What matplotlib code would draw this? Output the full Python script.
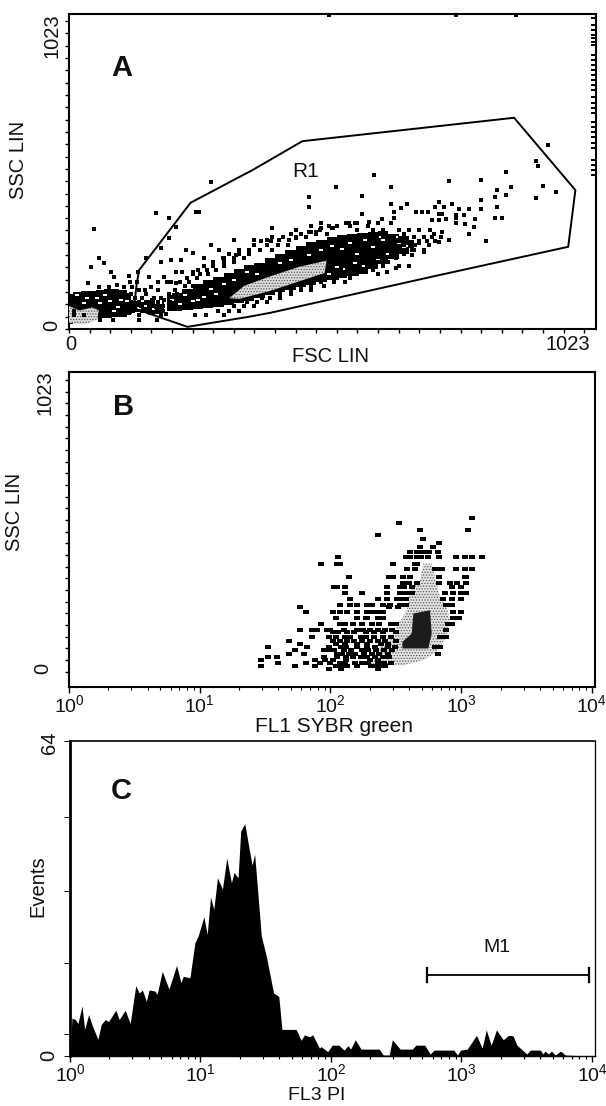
#!/usr/bin/env python3
"""Flow cytometry figure: FSC/SSC dot plot (A), SYBR green/SSC (B), PI histogram (C)."""
import matplotlib
matplotlib.use("Agg")
import matplotlib.pyplot as plt
from matplotlib.patches import Polygon
from matplotlib.ticker import LogLocator, NullFormatter, LogFormatterMathtext
import numpy as np

W, H = 606, 1106
plt.rcParams["font.family"] = ["Liberation Sans", "DejaVu Sans"]
plt.rcParams["hatch.linewidth"] = 0.6

# ── Panel A: FSC / SSC channels ──────────────────────────────────────────────
a_x = [48, 168, 194, 207, 194, 275, 246, 253, 466, 466, 518, 395, 58, 42, 68, 81, 87, 117, 149, 178,
       133, 155, 178, 198, 217, 185, 207, 220, 240, 227, 240, 262, 298, 275, 291, 321, 324, 350, 360,
       385, 408, 428, 441, 466, 479, 489, 512, 538, 198, 207, 36, 58, 78, 94, 107, 123, 159, 149, 162,
       185, 168, 188, 504, 751, 867, 929, 906, 911, 849, 592, 738, 800, 519, 626, 920, 858, 830, 945,
       568, 826, 848, 906, 799, 626, 657, 718, 568, 744, 757, 776, 799, 830, 728, 710, 826, 840, 789,
       767, 751, 718, 725, 631, 644, 673, 686, 696, 809, 776, 786, 769, 738, 718, 708, 725, 718, 705,
       731, 751, 751, 666, 689, 666, 679, 699, 640, 618, 634, 608, 631, 511, 488, 469, 543, 556, 582]
a_y = [326, 376, 359, 332, 294, 478, 381, 381, 430, 397, 462, 327, 229, 202, 213, 186, 170, 172, 229, 262,
       186, 170, 218, 224, 224, 170, 186, 186, 186, 256, 246, 229, 229, 272, 256, 289, 240, 256, 289,
       289, 289, 289, 294, 316, 316, 327, 327, 343, 153, 148, 148, 137, 137, 143, 137, 137, 137, 115, 94,
       94, 72, 50, 1020, 1020, 1020, 597, 546, 530, 511, 500, 482, 484, 462, 460, 465, 460, 451, 446,
       433, 430, 435, 427, 419, 406, 406, 411, 373, 406, 390, 390, 390, 395, 395, 395, 362, 362, 357,
       370, 370, 375, 375, 381, 392, 381, 381, 381, 287, 307, 330, 341, 289, 283, 310, 316, 354, 354,
       357, 343, 359, 240, 251, 256, 278, 272, 205, 186, 197, 357, 359, 327, 321, 316, 343, 343, 348]
# saturated events piled up on the last FSC channel
a_edge_y = [1009, 987, 971, 955, 944, 933, 922, 890, 874, 857, 841, 825, 809, 792, 776, 754, 733, 717,
            700, 673, 657, 641, 625, 603, 587, 549, 532, 516, 500]
a_edge_x = [1017] * len(a_edge_y)

# rim of the dense band, one SSC row at a time
a_rim_rows = [345, 335, 322, 310, 298, 285, 272, 258, 245, 232, 218, 205, 192, 178, 165, 152, 140, 128,
              115, 102, 88, 75, 60, 45, 30]
a_rim_x = [[537, 560, 600, 625, 490],
           [470, 505, 520, 545, 580],
           [440, 560, 590, 610, 640, 660, 680, 700],
           [430, 450, 480, 500, 600, 650],
           [395, 415, 440, 460, 610, 630, 670, 690, 705, 722],
           [372, 392, 640, 655, 680, 695, 710],
           [360, 385, 405, 425, 610, 630, 650, 672],
           [330, 350, 370, 395, 600, 625, 650, 670, 690],
           [310, 330, 350, 600, 625, 650],
           [300, 320, 340, 590, 610, 635],
           [280, 300, 320, 580, 600, 620],
           [262, 280, 300, 565, 590, 610, 660],
           [250, 268, 285, 540, 565, 590],
           [240, 255, 270, 515, 535, 560, 600],
           [230, 248, 500, 520, 545],
           [118, 132, 172, 190, 215, 232, 470, 490, 515, 535],
           [225, 240, 450, 470, 495],
           [135, 148, 172, 205, 430, 450, 470],
           [120, 195, 210, 410, 430],
           [128, 142, 165, 178, 375, 390, 410],
           [120, 135, 150, 172, 196, 345, 365, 385],
           [125, 140, 155, 182, 320, 340, 360],
           [10, 125, 170, 182, 290, 310, 330],
           [10, 30, 60, 80, 135, 178, 245, 265, 300],
           [60, 85, 135, 170]]

a_left_x = [0, 15, 30, 45, 60, 75, 90, 105, 120]
a_left_lo = [15, 18, 20, 30, 35, 35, 40, 40, 45]
a_left_hi = [115, 120, 125, 125, 128, 130, 130, 128, 118]

a_mid_x = [115, 130, 145, 160, 175, 185]
a_mid_lo = [50, 55, 52, 45, 50, 55]
a_mid_hi = [85, 92, 88, 95, 80, 90]

a_band_x = [190, 210, 230, 250, 270, 290, 310, 330, 350, 370, 390, 410, 430, 450, 470, 490, 510, 530,
            550, 570, 590, 610, 630, 650, 670]
a_band_lo = [58, 60, 62, 65, 68, 72, 78, 85, 92, 100, 110, 120, 128, 135, 142, 152, 160, 165, 172, 180,
             195, 210, 228, 245, 262]
a_band_hi = [110, 118, 130, 145, 160, 170, 182, 195, 208, 215, 232, 245, 258, 270, 282, 290, 300, 305,
             308, 312, 316, 318, 308, 302, 288]

a_hole_x = [15, 30, 55, 70, 80, 95, 100, 35, 60, 112, 88, 200, 225, 250, 275, 300, 320, 345, 365, 410,
            430, 465, 490, 510, 530, 545, 560, 575, 590, 605, 625, 640, 655, 520, 555, 590, 610, 650,
            135, 150, 165, 215, 240, 262, 285, 355, 395, 425, 455, 505, 535, 570, 600, 620, 635, 665]
a_hole_y = [110, 85, 100, 110, 90, 70, 95, 100, 85, 90, 60, 95, 110, 95, 130, 145, 160, 185, 180, 215,
            225, 240, 255, 270, 260, 280, 245, 290, 265, 300, 255, 280, 270, 200, 215, 235, 290, 265,
            68, 75, 65, 80, 90, 105, 115, 115, 130, 150, 170, 180, 195, 205, 225, 245, 300, 295]

a_gray_x = [311, 340, 389, 447, 500, 496, 447, 389, 331]
a_gray_y = [100, 140, 170, 202, 222, 182, 155, 123, 98]
a_gray2_x = [0, 30, 55, 58, 45, 20, 0]
a_gray2_y = [20, 15, 30, 60, 70, 60, 75]

gate_x = [126, 230, 350, 392, 459, 705, 969, 983, 864, 453, 356, 236, 136, 131, 126]
gate_y = [67, 7, 40, 53, 78, 170, 267, 451, 686, 610, 516, 410, 191, 142, 67]

# ── Panel B: log10 FL1 per SSC row ───────────────────────────────────────────
b_rows = [526, 509, 486, 469, 455, 442, 429, 412, 392, 371, 352, 325, 303, 292, 270, 250, 230, 222, 205,
          185, 165, 145, 135, 120, 105, 97, 86, 75, 60, 50, 42, 30, 20, 10]
b_log_x = [[3.084],
           [2.527],
           [3.049, 2.687],
           [2.362],
           [2.705],
           [2.832],
           [2.787, 2.685],
           [2.82, 2.608, 2.66, 2.71, 2.75],
           [2.575, 2.608, 2.745, 2.83, 2.96, 3.03, 3.08, 3.155, 2.66, 2.69, 2.056],
           [2.48, 1.926, 2.05, 2.07, 2.66, 2.65],
           [2.85, 2.82, 2.80, 2.646, 2.583, 2.957, 3.079, 3.03],
           [2.48, 2.45, 2.145, 2.557, 2.608, 2.83, 3.03, 3.04],
           [3.04, 2.965, 2.914, 2.557, 2.6, 2.66, 2.83],
           [2.03, 2.05, 2.11, 2.43, 2.53, 2.56, 2.62, 2.93, 3.0],
           [2.11, 2.24, 2.43, 2.53, 2.58, 2.62, 3.04, 3.0, 2.876, 2.94],
           [2.15, 2.365, 2.43, 2.51, 2.545, 2.58, 2.86, 2.93, 3.0],
           [2.15, 2.2, 2.07, 2.28, 2.316, 2.4, 2.455, 2.53, 2.58, 2.88, 2.93],
           [1.77, 2.45, 2.52],
           [1.81, 2.07, 2.02, 2.125, 2.2, 2.28, 2.316, 2.36, 2.405, 2.94, 3.0],
           [2.04, 2.2, 2.28, 2.27, 2.36, 2.4, 2.94, 2.98],
           [1.93, 2.07, 2.11, 2.175, 2.24, 2.316, 2.37, 2.46, 2.5, 2.93, 2.9],
           [1.77, 1.86, 1.9, 1.97, 2.0, 2.1, 2.2, 2.25, 2.3, 2.36, 2.42, 2.47, 2.88],
           [2.02, 2.06, 2.13, 2.18, 2.27, 2.33, 2.4, 2.5],
           [1.86, 1.99, 2.04, 2.11, 2.15, 2.23, 2.27, 2.33, 2.4, 2.46, 2.84, 2.88],
           [1.68, 2.02, 2.07, 2.13, 2.18, 2.24, 2.3, 2.36, 2.42, 2.5],
           [1.77, 2.04, 2.11, 2.2, 2.28, 2.39, 2.44],
           [1.52, 1.82, 1.99, 2.08, 2.12, 2.2, 2.28, 2.34, 2.44, 2.49, 2.8, 2.84],
           [1.73, 1.95, 2.0, 2.03, 2.1, 2.16, 2.24, 2.29, 2.35, 2.41, 2.47],
           [1.68, 1.8, 2.05, 2.09, 2.14, 2.19, 2.26, 2.32, 2.37, 2.44, 2.82],
           [1.52, 1.59, 1.95, 2.05, 2.12, 2.17, 2.23, 2.28, 2.34, 2.4, 2.45],
           [1.465, 1.885, 1.96, 2.02, 2.12, 2.3, 2.36],
           [1.6, 1.81, 1.92, 2.0, 2.07, 2.11, 2.19, 2.24, 2.29, 2.36, 2.41, 2.46],
           [1.465, 1.73, 1.885, 2.04, 2.08, 2.13, 2.2, 2.31, 2.33, 2.38, 2.42],
           [1.99, 2.08, 2.36]]

b_gray_log = [2.328, 2.558, 2.71, 2.812, 2.888, 2.914, 2.888, 2.837, 2.812, 2.774, 2.71, 2.685, 2.608,
              2.583, 2.507, 2.443, 2.354, 2.303]
b_gray_y = [23, 23, 40, 69, 120, 177, 223, 257, 303, 371, 371, 314, 280, 211, 154, 109, 74, 29]
b_core_log = [2.634, 2.761, 2.774, 2.748, 2.55, 2.55, 2.621]
b_core_y = [200, 211, 131, 80, 80, 103, 131]

# ── Panel C: log10 FL3 vs. events ────────────────────────────────────────────
c_log_x = [0.0, 0.015, 0.041, 0.061, 0.092, 0.112, 0.143, 0.173, 0.214, 0.239, 0.27, 0.295, 0.351, 0.377,
           0.423, 0.461, 0.504, 0.53, 0.555, 0.585, 0.606, 0.651, 0.667, 0.707, 0.758, 0.817, 0.85, 0.868,
           0.919, 0.957, 0.982, 1.026, 1.051, 1.077, 1.102, 1.13, 1.168, 1.201, 1.237, 1.257, 1.288, 1.308,
           1.339, 1.395, 1.415, 1.466, 1.504, 1.56, 1.6, 1.624, 1.733, 1.771, 1.797, 1.835, 1.86, 1.911,
           1.924, 1.975, 2.01, 2.06, 2.10, 2.13, 2.15, 2.186, 2.23, 2.37, 2.40, 2.446, 2.47, 2.53, 2.624,
           2.65, 2.718, 2.76, 2.79, 2.94, 2.97, 2.993, 3.044, 3.115, 3.158, 3.19, 3.227, 3.268, 3.32, 3.36,
           3.395, 3.425, 3.5, 3.527, 3.604, 3.624, 3.64, 3.667, 3.69, 3.718, 3.76, 3.795, 3.96]
c_events = [0.0, 7.7, 7.4, 6.6, 10.2, 5.4, 8.4, 6.0, 3.4, 6.4, 7.4, 7.0, 9.3, 7.4,
            9.3, 6.6, 14.3, 12.8, 13.4, 11.1, 13.4, 13.2, 12.5, 17.2, 13.6, 18.4, 14.9, 16.2,
            15.9, 23.0, 24.4, 28.3, 24.7, 32.3, 29.8, 36.2, 33.9, 40.2, 35.2, 37.3, 36.2, 45.7,
            47.2, 38.8, 41.0, 24.4, 20.3, 12.8, 12.1, 5.4, 5.4, 3.2, 4.3, 3.9, 4.3, 1.6,
            1.9, 0.9, 2.2, 2.2, 1.2, 2.1, 1.4, 3.3, 1.4, 1.4, 0.2, 0.2, 3.3, 1.4, 1.4,
            2.2, 2.2, 0.4, 1.2, 1.2, 0.2, 1.2, 1.4, 4.2, 1.6, 5.3, 2.2, 5.3, 3.3, 4.2,
            4.1, 2.2, 0.4, 1.2, 1.2, 0.4, 1.0, 0.4, 1.0, 0.2, 1.0, 0.2, 0.0]
c_yticks = [0, 4.5, 18.9, 33.6, 48.5, 64]
m1_x = [540, 9480]
m1_y = 16.5

ink = "#111111"
XMAX_LOG = 10 ** 4.023
DOT = [(-1.25, -1), (1.25, -1), (1.25, 1), (-1.25, 1)]


def px_axes(fig, left, top, right, bottom):
    return fig.add_axes([left / W, 1 - bottom / H, (right - left) / W, (bottom - top) / H])


def px_text(fig, x, y, s, size=14.5, rotation=0, **kw):
    fig.text(x / W, 1 - y / H, s, fontsize=size, rotation=rotation, ha="center", va="center",
             color=ink, **kw)


def dots(ax, x, y, color="black", s=11.0, z=4):
    ax.scatter(x, y, marker=DOT, s=s, c=color, linewidths=0, zorder=z, clip_on=False)


def rows_to_xy(rows, xs):
    ox, oy = [], []
    for y, row in zip(rows, xs):
        ox += row
        oy += [y] * len(row)
    return ox, oy


def log_xaxis(ax):
    ax.set_xscale("log")
    ax.set_xlim(1, XMAX_LOG)
    ax.xaxis.set_major_locator(LogLocator(base=10, numticks=6))
    ax.xaxis.set_minor_locator(LogLocator(base=10, subs=range(2, 10), numticks=12))
    ax.xaxis.set_major_formatter(LogFormatterMathtext())
    ax.xaxis.set_minor_formatter(NullFormatter())
    ax.tick_params(axis="x", which="major", length=4, width=1, labelsize=14, pad=1, labelcolor=ink)
    ax.tick_params(axis="x", which="minor", length=2.5, width=0.8)


fig = plt.figure(figsize=(W / 100, H / 100), dpi=100, facecolor="white")

# ── A ────────────────────────────────────────────────────────────────────────
ax = px_axes(fig, 69, 14, 596, 329)
ax.set_xlim(0, 1023)
ax.set_ylim(0, 1023)
ax.set_xticks(range(0, 1001, 40))
ax.set_yticks(range(0, 1001, 40))
ax.tick_params(length=3, width=1, labelbottom=False, labelleft=False)
for sp in ax.spines.values():
    sp.set_linewidth(1.5)
ax.fill_between(a_left_x, a_left_lo, a_left_hi, step="mid", color="black", lw=0, zorder=2)
ax.fill_between(a_mid_x, a_mid_lo, a_mid_hi, step="mid", color="black", lw=0, zorder=2)
ax.fill_between(a_band_x, a_band_lo, a_band_hi, step="mid", color="black", lw=0, zorder=2)
dots(ax, a_hole_x, a_hole_y, color="white", s=7.0, z=3)
for px_, py_ in [(a_gray_x, a_gray_y), (a_gray2_x, a_gray2_y)]:
    ax.add_patch(Polygon(np.column_stack([px_, py_]), closed=True, fc="#dcdcdc", ec="#555555",
                         hatch="......", lw=0, zorder=3))
dots(ax, a_x, a_y)
dots(ax, a_edge_x, a_edge_y, s=6.0)
rx, ry = rows_to_xy(a_rim_rows, a_rim_x)
dots(ax, rx, ry)
ax.plot(gate_x, gate_y, color="black", lw=1.4, zorder=5, solid_joinstyle="miter")
ax.text(459, 510, "R1", fontsize=15, ha="center", va="center", color=ink)
px_text(fig, 122, 68, "A", size=21, fontweight="bold")
px_text(fig, 71, 344, "0")
px_text(fig, 568, 344, "1023")
px_text(fig, 331, 357, "FSC LIN")
px_text(fig, 18, 160, "SSC LIN", rotation=90)
px_text(fig, 52, 36, "1023", rotation=90)
px_text(fig, 52, 325, "0", rotation=90)

# ── B ────────────────────────────────────────────────────────────────────────
ax = px_axes(fig, 69, 372, 595, 687)
log_xaxis(ax)
ax.set_ylim(-52, 1028)
ax.set_yticks(range(0, 1001, 40))
ax.tick_params(axis="y", length=3, width=1, labelleft=False)
for sp in ax.spines.values():
    sp.set_linewidth(1.5)
ax.add_patch(Polygon(np.column_stack([10 ** np.array(b_gray_log), b_gray_y]), closed=True,
                     fc="#e4e4e4", ec="#555555", hatch="......", lw=0, zorder=2))
ax.add_patch(Polygon(np.column_stack([10 ** np.array(b_core_log), b_core_y]), closed=True,
                     fc="#1c1c1c", lw=0, zorder=3))
bx, by = rows_to_xy(b_rows, b_log_x)
dots(ax, 10 ** np.array(bx), by, s=15.0)
px_text(fig, 124, 407, "B", size=21, fontweight="bold")
px_text(fig, 334, 726, "FL1 SYBR green", size=15)
px_text(fig, 14, 512, "SSC LIN", rotation=90)
px_text(fig, 45, 393, "1023", rotation=90)
px_text(fig, 43, 668, "0", rotation=90)

# ── C ────────────────────────────────────────────────────────────────────────
ax = px_axes(fig, 70, 741, 595, 1056)
log_xaxis(ax)
ax.set_ylim(0, 64)
ax.set_yticks(c_yticks)
ax.tick_params(axis="y", length=4, width=0.7, labelleft=False)
ax.spines["left"].set_linewidth(2.0)
ax.spines["top"].set_linewidth(1.2)
ax.spines["right"].set_linewidth(0.9)
ax.spines["bottom"].set_linewidth(1.0)
ax.fill_between(10 ** np.array(c_log_x), c_events, 0, color="black", lw=0)
ax.plot(m1_x, [m1_y, m1_y], color="black", lw=1.3)
ax.plot([m1_x[0]] * 2, [m1_y - 1.4, m1_y + 1.4], color="black", lw=1.6)
ax.plot([m1_x[1]] * 2, [m1_y - 1.4, m1_y + 1.4], color="black", lw=1.6)
px_text(fig, 497, 948, "M1", size=14)
px_text(fig, 121, 791, "C", size=21, fontweight="bold")
px_text(fig, 317, 1095, "FL3 PI", size=14)
px_text(fig, 38, 886, "Events", rotation=90)
px_text(fig, 50, 743, "64", rotation=90)
px_text(fig, 49, 1055, "0", rotation=90)

fig.savefig("out.png", dpi=100, facecolor="white")
